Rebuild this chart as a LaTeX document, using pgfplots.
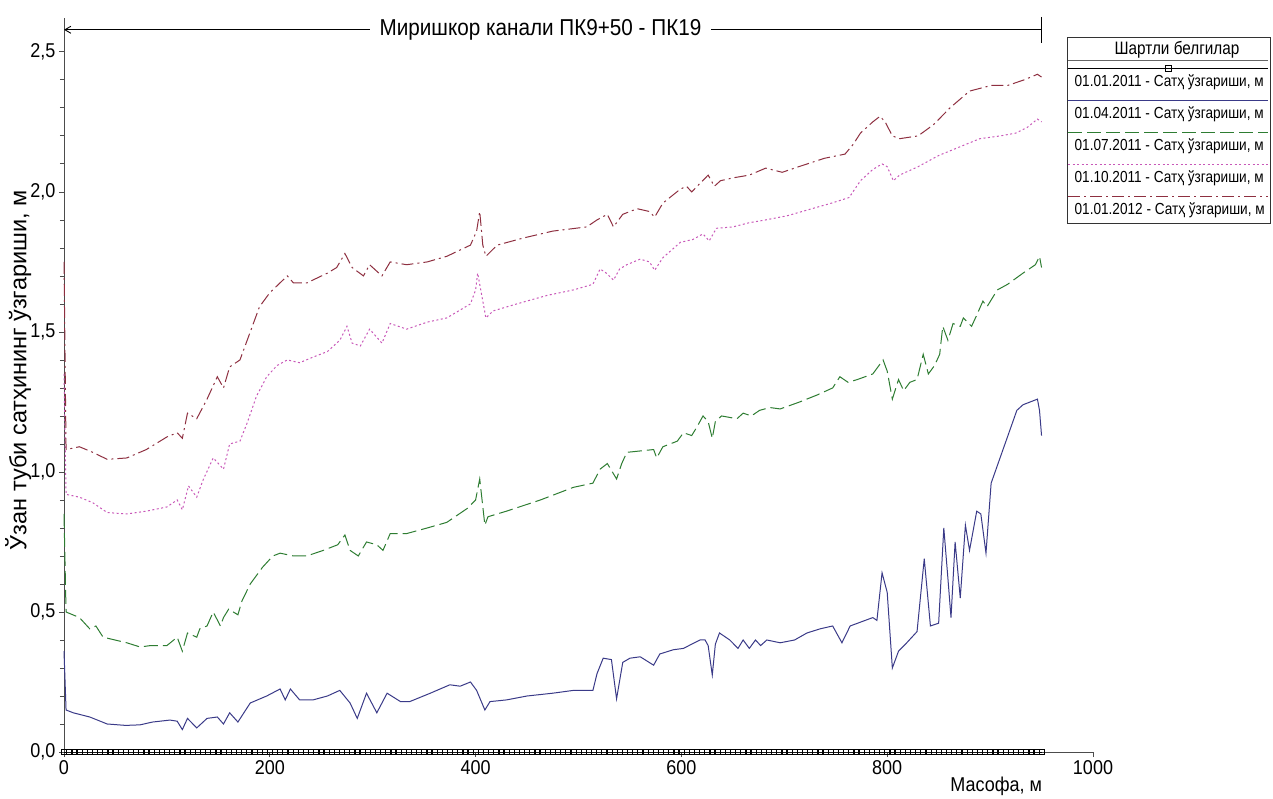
\documentclass[border=0pt]{standalone}
\usepackage{fontspec}
\setmainfont{Liberation Sans}
\newfontfamily\narrowfont{Liberation Sans}[FakeStretch=0.9]
\newfontfamily\legfont{Liberation Sans}[FakeStretch=0.85]
\usepackage{pgfplots}
\pgfplotsset{compat=1.18}
\usetikzlibrary{arrows.meta}

\definecolor{cnavy}{HTML}{3A3A88}
\definecolor{cgreen}{HTML}{2E7D32}
\definecolor{cpink}{HTML}{C858B8}
\definecolor{cred}{HTML}{8E2F40}

\pgfplotsset{
  myleg/.style={legend image code/.code={%
    \path (0pt,0pt);
    \draw[mark repeat=2,mark phase=2,##1,overlay] plot coordinates {(-4pt,14pt) (96pt,14pt) (196pt,14pt)};}},
}

\begin{document}
\begin{tikzpicture}
\useasboundingbox (-64pt,-46pt) rectangle (1209pt,752pt);
\begin{axis}[
  at={(0pt,0pt)}, anchor=south west,
  scale only axis, width=1029pt, height=734pt,
  xmin=0, xmax=1000, ymin=0, ymax=2.621,
  axis x line=bottom, axis y line=left,
  axis line style={-, line width=1pt, black!70},
  xtick={0,200,...,1000}, ytick={0,0.5,...,2.5},
  minor y tick num=4,
  tick align=outside,
  major tick length=5pt, minor tick length=4pt,
  tick style={black!70, line width=0.8pt},
  clip=false,
  /pgf/number format/assume math mode=true,
  ticklabel style={font=\narrowfont\fontsize{20}{22}\selectfont},
  yticklabel style={/pgf/number format/.cd, fixed, fixed zerofill, precision=1, use comma},
  xticklabel style={/pgf/number format/.cd, fixed, precision=0, 1000 sep={}},
  ylabel={Ўзан туби сатҳининг ўзгариши, м},
  ylabel style={font=\fontsize{23.5}{25}\selectfont, at={(axis description cs:-0.0445,0.52)}, anchor=center},
  xlabel={Масофа, м},
  xlabel style={font=\narrowfont\fontsize{20}{22}\selectfont, at={(axis cs:906,0)}, anchor=center, yshift=-34pt},
  legend style={at={(axis cs:975,2.554)}, anchor=north west, draw=black!80, line width=0.8pt, fill=white,
    inner xsep=4pt, inner ysep=5pt, row sep=16pt, column sep=0pt,
    font=\legfont\fontsize{16}{18}\selectfont,
    nodes={inner ysep=0pt, text height=12pt, text depth=4pt}},
  legend cell align=left,
]
\addlegendimage{legend image code/.code={\path (0pt,0pt); \draw[overlay, black!60, line width=0.7pt] (-4pt,-10pt) -- (196pt,-10pt);}}
\addlegendentry{\hspace*{40pt}\fontsize{18}{20}\selectfont Шартли белгилар}

% 01.01.2011
\addplot[black, line width=0.8pt, mark=square, mark size=2.7pt, mark options={solid, line width=0.6pt, fill=white}, myleg] coordinates {
(0,0)(5,0)(10,0)(15,0)(20,0)(25,0)(30,0)(35,0)(40,0)(45,0)(50,0)(55,0)(60,0)(65,0)(70,0)(75,0)(80,0)(85,0)(90,0)(95,0)
(100,0)(105,0)(110,0)(115,0)(120,0)(125,0)(130,0)(135,0)(140,0)(145,0)(150,0)(155,0)(160,0)(165,0)(170,0)(175,0)(180,0)(185,0)(190,0)(195,0)
(200,0)(205,0)(210,0)(215,0)(220,0)(225,0)(230,0)(235,0)(240,0)(245,0)(250,0)(255,0)(260,0)(265,0)(270,0)(275,0)(280,0)(285,0)(290,0)(295,0)
(300,0)(305,0)(310,0)(315,0)(320,0)(325,0)(330,0)(335,0)(340,0)(345,0)(350,0)(355,0)(360,0)(365,0)(370,0)(375,0)(380,0)(385,0)(390,0)(395,0)
(400,0)(405,0)(410,0)(415,0)(420,0)(425,0)(430,0)(435,0)(440,0)(445,0)(450,0)(455,0)(460,0)(465,0)(470,0)(475,0)(480,0)(485,0)(490,0)(495,0)
(500,0)(505,0)(510,0)(515,0)(520,0)(525,0)(530,0)(535,0)(540,0)(545,0)(550,0)(555,0)(560,0)(565,0)(570,0)(575,0)(580,0)(585,0)(590,0)(595,0)
(600,0)(605,0)(610,0)(615,0)(620,0)(625,0)(630,0)(635,0)(640,0)(645,0)(650,0)(655,0)(660,0)(665,0)(670,0)(675,0)(680,0)(685,0)(690,0)(695,0)
(700,0)(705,0)(710,0)(715,0)(720,0)(725,0)(730,0)(735,0)(740,0)(745,0)(750,0)(755,0)(760,0)(765,0)(770,0)(775,0)(780,0)(785,0)(790,0)(795,0)
(800,0)(805,0)(810,0)(815,0)(820,0)(825,0)(830,0)(835,0)(840,0)(845,0)(850,0)(855,0)(860,0)(865,0)(870,0)(875,0)(880,0)(885,0)(890,0)(895,0)
(900,0)(905,0)(910,0)(915,0)(920,0)(925,0)(930,0)(935,0)(940,0)(945,0)(950,0)
};
\addlegendentry{01.01.2011 - Сатҳ ўзгариши, м}

% 01.04.2011
\addplot[cnavy, line width=1pt, myleg] coordinates {
(0,0.36)(2,0.15)(9,0.14)(25,0.125)(42,0.10)(60,0.095)(74,0.097)(86,0.107)(103,0.114)(110,0.11)(115,0.08)(120,0.12)(129,0.086)(139,0.12)(149,0.125)(155,0.10)(161,0.14)(169,0.107)(181,0.175)(197,0.20)(210,0.225)(215,0.186)(220,0.225)(229,0.186)(242,0.186)(256,0.20)(268,0.22)(278,0.175)(285,0.12)(294,0.21)(304,0.14)(314,0.21)(327,0.18)(336,0.18)(356,0.21)(375,0.24)(385,0.235)(395,0.25)(401,0.22)(409,0.15)(414,0.18)(430,0.186)(450,0.20)(475,0.21)(495,0.22)(514,0.22)(518,0.28)(524,0.335)(532,0.33)(537,0.19)(543,0.32)(550,0.335)(560,0.34)(573,0.31)(579,0.35)(592,0.365)(602,0.37)(618,0.40)(623,0.40)(626,0.38)(630,0.275)(633,0.385)(637,0.425)(647,0.40)(655,0.37)(660,0.40)(666,0.37)(672,0.40)(677,0.38)(683,0.40)(696,0.39)(710,0.40)(722,0.425)(735,0.44)(747,0.45)(756,0.39)(764,0.45)(786,0.48)(790,0.47)(795,0.64)(800,0.57)(805,0.30)(811,0.36)(819,0.39)(829,0.43)(836,0.69)(842,0.45)(850,0.46)(855,0.80)(859,0.62)(862,0.48)(866,0.75)(871,0.55)(876,0.81)(880,0.72)(887,0.86)(891,0.85)(896,0.71)(901,0.96)(926,1.22)(932,1.24)(946,1.26)(948,1.22)(950,1.13)
};
\addlegendentry{01.04.2011 - Сатҳ ўзгариши, м}

% 01.07.2011
\addplot[cgreen, line width=1pt, dash pattern=on 14pt off 5pt, myleg] coordinates {
(0,0.85)(2,0.50)(15,0.48)(25,0.44)(31,0.45)(38,0.41)(61,0.39)(74,0.375)(84,0.38)(100,0.38)(110,0.41)(115,0.36)(120,0.425)(129,0.41)(132,0.44)(139,0.45)(145,0.50)(152,0.45)(155,0.48)(160,0.51)(169,0.49)(173,0.54)(181,0.60)(193,0.66)(203,0.70)(210,0.71)(223,0.70)(236,0.70)(252,0.72)(266,0.74)(273,0.775)(278,0.72)(286,0.70)(294,0.75)(304,0.74)(310,0.72)(317,0.78)(333,0.78)(353,0.80)(372,0.82)(392,0.87)(400,0.90)(404,0.975)(409,0.81)(412,0.84)(430,0.86)(463,0.90)(495,0.945)(514,0.96)(521,1.01)(528,1.03)(537,0.975)(542,1.03)(547,1.07)(560,1.075)(573,1.08)(576,1.05)(582,1.09)(596,1.11)(602,1.14)(610,1.13)(615,1.16)(621,1.20)(626,1.18)(630,1.12)(633,1.18)(639,1.20)(654,1.19)(660,1.21)(668,1.20)(676,1.22)(686,1.23)(696,1.225)(715,1.25)(732,1.275)(747,1.30)(754,1.34)(762,1.32)(771,1.33)(786,1.35)(796,1.40)(800,1.36)(805,1.26)(811,1.33)(816,1.29)(822,1.32)(829,1.33)(835,1.42)(840,1.35)(846,1.38)(851,1.42)(854,1.52)(859,1.47)(864,1.53)(871,1.52)(874,1.55)(882,1.52)(887,1.56)(893,1.61)(897,1.59)(907,1.65)(917,1.67)(932,1.71)(944,1.74)(948,1.77)(950,1.73)
};
\addlegendentry{01.07.2011 - Сатҳ ўзгариши, м}

% 01.10.2011
\addplot[cpink, line width=1pt, dash pattern=on 2pt off 2.5pt, myleg] coordinates {
(0,1.35)(2,0.92)(15,0.91)(28,0.89)(42,0.855)(61,0.85)(80,0.86)(100,0.875)(110,0.90)(115,0.865)(121,0.95)(129,0.91)(135,0.97)(145,1.05)(150,1.03)(155,1.01)(161,1.10)(171,1.11)(178,1.175)(187,1.27)(197,1.34)(207,1.38)(217,1.40)(229,1.39)(242,1.41)(256,1.43)(268,1.47)(275,1.52)(280,1.46)(288,1.45)(297,1.51)(309,1.46)(317,1.53)(333,1.51)(353,1.535)(372,1.55)(395,1.60)(400,1.65)(402,1.71)(406,1.63)(410,1.55)(417,1.575)(440,1.60)(469,1.63)(495,1.65)(514,1.67)(521,1.725)(527,1.71)(534,1.685)(540,1.725)(547,1.74)(560,1.76)(569,1.75)(574,1.72)(582,1.765)(599,1.82)(611,1.83)(621,1.85)(627,1.825)(634,1.87)(650,1.875)(666,1.89)(682,1.90)(703,1.915)(722,1.935)(746,1.96)(763,1.98)(774,2.04)(786,2.08)(795,2.10)(800,2.09)(806,2.04)(812,2.06)(830,2.09)(850,2.13)(870,2.16)(890,2.19)(910,2.20)(925,2.21)(936,2.23)(946,2.26)(950,2.25)
};
\addlegendentry{01.10.2011 - Сатҳ ўзгариши, м}

% 01.01.2012
\addplot[cred, line width=1pt, dash pattern=on 12pt off 4pt on 2pt off 4pt, myleg] coordinates {
(0,1.75)(2,1.08)(15,1.09)(28,1.07)(42,1.045)(61,1.05)(80,1.08)(100,1.125)(110,1.14)(115,1.12)(120,1.21)(129,1.19)(139,1.26)(149,1.34)(155,1.30)(161,1.375)(171,1.40)(181,1.50)(190,1.59)(200,1.64)(217,1.70)(223,1.675)(236,1.675)(256,1.71)(265,1.73)(273,1.78)(280,1.73)(291,1.70)(297,1.74)(309,1.70)(317,1.75)(333,1.74)(353,1.75)(372,1.77)(395,1.81)(401,1.86)(404,1.93)(407,1.81)(410,1.77)(421,1.81)(446,1.835)(475,1.86)(508,1.875)(518,1.90)(528,1.92)(534,1.875)(543,1.92)(557,1.94)(569,1.93)(574,1.91)(582,1.96)(599,2.01)(605,2.02)(610,2.00)(618,2.03)(626,2.06)(632,2.02)(638,2.04)(650,2.05)(666,2.06)(682,2.085)(698,2.07)(714,2.09)(739,2.12)(759,2.135)(767,2.17)(774,2.21)(786,2.25)(793,2.27)(798,2.25)(805,2.20)(812,2.19)(830,2.20)(845,2.24)(861,2.30)(880,2.36)(901,2.38)(917,2.38)(933,2.40)(946,2.42)(950,2.41)
};
\addlegendentry{01.01.2012 - Сатҳ ўзгариши, м}

% title line
\draw[black, line width=0.9pt, {Straight Barb[length=6pt,width=7pt]}-{Bar[width=26pt]}] (axis cs:0,2.579) -- (axis cs:950,2.579);
\node[fill=white, inner xsep=10pt, font=\narrowfont\fontsize{23}{25}\selectfont] at (axis cs:463,2.579) {Миришкор канали ПК9+50 - ПК19};
\end{axis}
\end{tikzpicture}
\end{document}
